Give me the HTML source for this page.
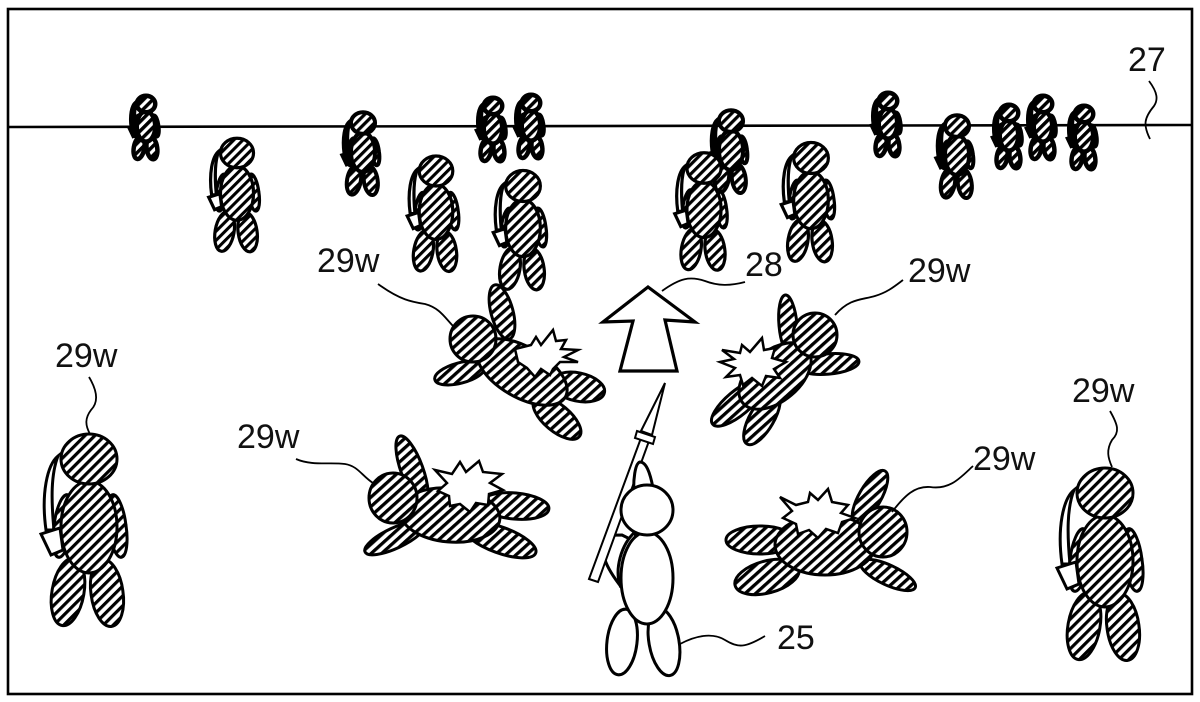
<!DOCTYPE html>
<html>
<head>
<meta charset="utf-8">
<style>
html,body{margin:0;padding:0;background:#fff;width:1200px;height:702px;overflow:hidden}
svg{display:block}
text{font-family:"Liberation Sans",sans-serif;font-size:34px;fill:#111}
#sol *{vector-effect:non-scaling-stroke;stroke:#000}
.sw{fill:var(--sw,#fff)}
.lg{stroke-width:3;fill:url(#h)}
.md{stroke-width:3.2;fill:url(#hm)}
.sm{stroke-width:4;fill:url(#hn);--sw:#000}
.xs{stroke-width:4.5;fill:url(#hs);--sw:#000}
.f{stroke:#000;stroke-width:3;fill:url(#k)}
.w{stroke:#000;stroke-width:3;fill:#fff}
.l{stroke:#000;stroke-width:1.8;fill:none}
.s{stroke:#000;stroke-width:2.5;fill:#fff;stroke-linejoin:miter}
</style>
</head>
<body>
<svg width="1200" height="702" viewBox="0 0 1200 702" xmlns="http://www.w3.org/2000/svg">
<defs>
<pattern id="h" patternUnits="userSpaceOnUse" width="7" height="7" patternTransform="rotate(-45)">
<rect width="7" height="7" fill="#fff"/><rect width="7" height="3.2" fill="#000"/>
</pattern>
<pattern id="hm" patternUnits="userSpaceOnUse" width="11" height="11" patternTransform="rotate(-45)">
<rect width="11" height="11" fill="#fff"/><rect width="11" height="5.2" fill="#000"/>
</pattern>
<pattern id="hn" patternUnits="userSpaceOnUse" width="15" height="15" patternTransform="rotate(-45)">
<rect width="15" height="15" fill="#fff"/><rect width="15" height="7.5" fill="#000"/>
</pattern>
<pattern id="hs" patternUnits="userSpaceOnUse" width="20" height="20" patternTransform="rotate(-45)">
<rect width="20" height="20" fill="#fff"/><rect width="20" height="10.5" fill="#000"/>
</pattern>
<pattern id="k" patternUnits="userSpaceOnUse" width="7" height="7" patternTransform="rotate(-42)">
<rect width="7" height="7" fill="#fff"/><rect width="7" height="3.3" fill="#000"/>
</pattern>
<g id="sol">
<path class="sw" d="M-31,-3 C-42,6 -48,35 -43,71 L-35,71 C-38,40 -38,15 -31,-3Z"/>
<path d="M-34.9,65.75 A9 30 8 1 0 -17.1,68.25 A9 30 8 1 0 -34.9,65.75Z"/>
<path d="M19.1,68.25 A9 30 -8 1 0 36.9,65.75 A9 30 -8 1 0 19.1,68.25Z"/>
<path d="M-36.76,130.22 A16 34 10 1 0 -5.24,135.78 A16 34 10 1 0 -36.76,130.22Z"/>
<path d="M2.16,136.23 A16 33 -8 1 0 33.84,131.77 A16 33 -8 1 0 2.16,136.23Z"/>
<ellipse cx="0" cy="68" rx="28" ry="46"/>
<ellipse cx="0" cy="0" rx="28" ry="25"/>
<path class="sw" d="M-48,75 L-29,69 L-26,91 L-38,96Z"/>
</g>
</defs>

<rect x="8" y="9" width="1184" height="685" fill="none" stroke="#000" stroke-width="2.6"/>
<path d="M8,127 L1192,125" stroke="#000" stroke-width="2.6" fill="none"/>

<!-- small soldiers -->
<use href="#sol" class="xs" transform="translate(146,104) scale(.33)"/>
<use href="#sol" class="xs" transform="translate(493,106) scale(.33)"/>
<use href="#sol" class="xs" transform="translate(531,103) scale(.33)"/>
<use href="#sol" class="xs" transform="translate(888,101) scale(.33)"/>
<use href="#sol" class="xs" transform="translate(1009,113) scale(.33)"/>
<use href="#sol" class="xs" transform="translate(1043,104) scale(.33)"/>
<use href="#sol" class="xs" transform="translate(1084,114) scale(.33)"/>
<use href="#sol" class="sm" transform="translate(731,121) scale(.43)"/>
<use href="#sol" class="sm" transform="translate(363,123) scale(.43)"/>
<use href="#sol" class="sm" transform="translate(957,126) scale(.43)"/>
<!-- medium soldiers -->
<use href="#sol" class="md" transform="translate(237,153) scale(.59)"/>
<use href="#sol" class="md" transform="translate(436,171) scale(.6)"/>
<use href="#sol" class="md" transform="translate(523,186) scale(.62)"/>
<use href="#sol" class="md" transform="translate(704,168) scale(.61)"/>
<use href="#sol" class="md" transform="translate(811,158) scale(.62)"/>
<!-- large soldiers -->
<use href="#sol" class="lg" transform="translate(89,459)"/>
<use href="#sol" class="lg" transform="translate(1105,493)"/>

<!-- fallen A -->
<path class="f" d="M491.37,314.85 A11 28 -15 1 0 512.63,309.15 A11 28 -15 1 0 491.37,314.85Z"/>
<path class="f" d="M434.89,379.73 A26 10 -15 1 0 485.11,366.27 A26 10 -15 1 0 434.89,379.73Z"/>
<path class="f" d="M551.59,381.39 A27 14 12 1 0 604.41,392.61 A27 14 12 1 0 551.59,381.39Z"/>
<path class="f" d="M534.79,399.36 A29 13 40 1 0 579.21,436.64 A29 13 40 1 0 534.79,399.36Z"/>
<path class="f" d="M478.7,347 A50 25 30 1 0 565.3,397 A50 25 30 1 0 478.7,347Z"/>
<ellipse class="f" cx="473" cy="339" rx="23" ry="23"/>
<polygon class="s" points="515,349 531,345 536,337 541,345 553,330 556,341 566,340 561,349 578,350 564,357 578,362 560,362 553,369 550,375 541,369 535,377 527,368 518,362"/>

<!-- fallen B -->
<path class="f" d="M779.03,325.78 A9 30 -5 1 0 796.97,324.22 A9 30 -5 1 0 779.03,325.78Z"/>
<path class="f" d="M797.12,366.7 A31 10 -5 1 0 858.88,361.3 A31 10 -5 1 0 797.12,366.7Z"/>
<path class="f" d="M712.72,424.21 A33 12 -40 1 0 763.28,381.79 A33 12 -40 1 0 712.72,424.21Z"/>
<path class="f" d="M747,443.98 A30 12 -60 1 0 777,392.02 A30 12 -60 1 0 747,443.98Z"/>
<path class="f" d="M742.83,403 A42 25 -40 1 0 807.17,349 A42 25 -40 1 0 742.83,403Z"/>
<ellipse class="f" cx="815" cy="335" rx="22" ry="22"/>
<polygon class="s" points="722,350 740,353 742,345 750,352 762,338 764,350 775,348 772,358 786,362 774,369 780,378 766,376 762,386 752,378 743,385 740,375 726,377 735,368 720,362 734,359"/>

<!-- fallen C -->
<path class="f" d="M401.66,473.76 A11 36 -20 1 0 422.34,466.24 A11 36 -20 1 0 401.66,473.76Z"/>
<path class="f" d="M365.1,551.95 A33 10 -25 1 0 424.9,524.05 A33 10 -25 1 0 365.1,551.95Z"/>
<path class="f" d="M481.13,503.04 A34 13 5 1 0 548.87,508.96 A34 13 5 1 0 481.13,503.04Z"/>
<path class="f" d="M464.29,527 A38 13 20 1 0 535.71,553 A38 13 20 1 0 464.29,527Z"/>
<path class="f" d="M400.19,510.64 A50 27 5 1 0 499.81,519.36 A50 27 5 1 0 400.19,510.64Z"/>
<ellipse class="f" cx="393" cy="498" rx="24" ry="25"/>
<polygon class="s" points="435,470 452,474 460,462 466,472 479,461 483,472 502,474 490,483 503,490 489,494 488,505 476,503 470,512 460,504 450,506 449,496 438,491 447,483"/>

<!-- fallen D -->
<path class="f" d="M860.47,491.5 A11 30 30 1 0 879.53,502.5 A11 30 30 1 0 860.47,491.5Z"/>
<path class="f" d="M860.81,562.32 A30 10 25 1 0 915.19,587.68 A30 10 25 1 0 860.81,562.32Z"/>
<ellipse class="f" cx="760" cy="540" rx="34" ry="14"/>
<path class="f" d="M735.12,585.54 A33 16 -15 1 0 798.88,568.46 A33 16 -15 1 0 735.12,585.54Z"/>
<ellipse class="f" cx="825" cy="545" rx="50" ry="30"/>
<ellipse class="f" cx="883" cy="532" rx="24" ry="25"/>
<polygon class="s" points="780,497 796,505 808,502 810,493 818,500 828,489 832,502 848,505 841,513 855,518 842,522 838,533 826,529 818,538 809,530 798,534 796,524 783,518 792,511"/>

<!-- arrow 28 -->
<polygon points="648,287 603,322 633,321 620,371 677,371 665,320 695,322" fill="#fff" stroke="#000" stroke-width="3.2"/>

<!-- player 25 -->
<path class="w" d="M606,540 C600,552 604,565 622,588 L632,540 L622,535 C615,535 608,535 606,540Z"/>
<path class="w" d="M636,531 C620,545 615,570 620,585 L632,570Z"/>
<polygon points="589,579 598,582 649,441 641,438" fill="#fff" stroke="#000" stroke-width="2"/>
<polygon points="637,431 655,437 653,444 635,438" fill="#fff" stroke="#000" stroke-width="2"/>
<polygon points="641,431 652,435 665,383" fill="#fff" stroke="#000" stroke-width="2"/>
<path class="w" d="M634,495 C633,480 635,463 640,462 C646,462 650,472 653,488"/>
<ellipse class="w" cx="622" cy="642" rx="15" ry="33" transform="rotate(7 622 642)"/>
<ellipse class="w" cx="664" cy="642" rx="15" ry="34" transform="rotate(-10 664 642)"/>
<ellipse class="w" cx="647" cy="578" rx="26" ry="46"/>
<ellipse class="w" cx="647" cy="510" rx="26" ry="25"/>

<!-- leaders -->
<path class="l" d="M89,377 C98,392 98,403 91,410 C85,418 85,425 90,434"/>
<path class="l" d="M378,284 C400,300 412,302 425,304 C440,308 445,318 454,327"/>
<path class="l" d="M662,291 C680,278 690,276 705,281 C718,286 730,286 745,282"/>
<path class="l" d="M835,315 C850,298 862,300 875,296 C888,292 895,286 903,280"/>
<path class="l" d="M296,459 C312,466 330,462 345,464 C358,466 362,476 373,483"/>
<path class="l" d="M892,512 C905,495 915,486 930,487 C950,490 960,478 973,466"/>
<path class="l" d="M1110,411 C1118,425 1120,432 1112,440 C1106,450 1108,458 1112,467"/>
<path class="l" d="M680,644 C695,636 712,632 725,640 C738,648 745,648 765,636"/>
<path class="l" d="M1149,81 C1158,93 1158,100 1154,106 C1144,118 1143,125 1150,139"/>

<!-- labels -->
<text x="317" y="272">29w</text>
<text x="908" y="282">29w</text>
<text x="55" y="367">29w</text>
<text x="237" y="448">29w</text>
<text x="973" y="470">29w</text>
<text x="1072" y="402">29w</text>
<text x="745" y="276">28</text>
<text x="1128" y="71">27</text>
<text x="777" y="649">25</text>
</svg>
</body>
</html>
